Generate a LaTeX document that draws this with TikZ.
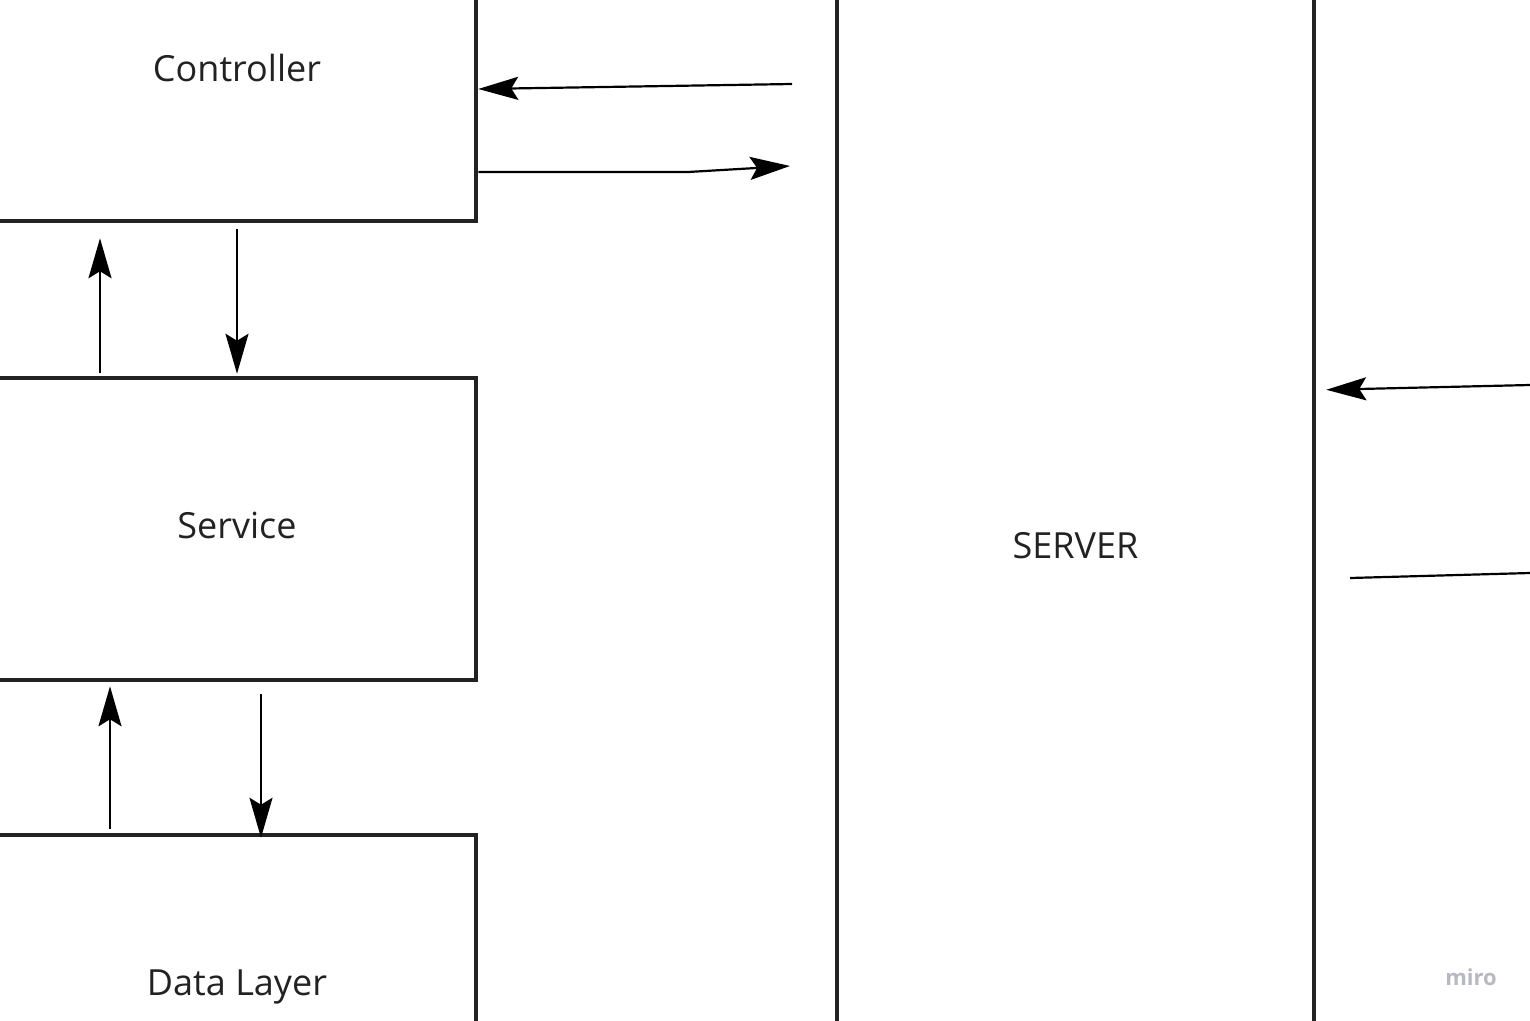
\documentclass[tikz,border=0pt]{standalone}
\usepackage{fontspec}
\setmainfont{Open Sans}
\usetikzlibrary{arrows.meta}
\definecolor{ink}{HTML}{222222}
\definecolor{mark}{HTML}{B8B8C2}
\begin{document}
\begin{tikzpicture}[x=1pt,y=-1pt,
  box/.style={draw=ink, line width=4.5pt, rectangle, inner sep=0pt,
    minimum width=478pt, minimum height=302pt},
  txt/.style={text=ink, inner sep=0pt, font=\fontsize{36}{42}\selectfont},
  arr/.style={line width=2.2pt, -{Stealth[length=40pt,width=23pt,inset=7pt]}},
  plainline/.style={line width=2.2pt}]
\useasboundingbox (0,0) rectangle (1530,1020);
\clip (0,0) rectangle (1530,1020);
\fill[white] (0,0) rectangle (1530,1020);

% layers of the application
\node[box, minimum height=306pt,
  label={[name=ctrltxt, txt]center:Controller}] (ctrl) at (237,68) {};
\node[box, label={[name=svctxt, txt, yshift=4pt]center:Service}] (svc) at (237,529) {};
\node[box, label={[name=datatxt, txt, yshift=-1pt]center:Data Layer}] (data) at (237,986) {};

% server column
\node[box, minimum width=477pt, minimum height=1400pt,
  label={[name=srvtxt, txt]center:SERVER}] (srv) at (1075.5,546) {};

% free ends of the request/response lines
\coordinate (reqin)   at (792,84);
\coordinate (bend)    at (688,172);
\coordinate (respout) at (790,166);
\coordinate (srvin)   at (1530,385);
\coordinate (outa)    at (1350,578);
\coordinate (outb)    at (1530,573);

% controller <-> outside
\draw[arr] (reqin) -- (ctrl.east |- 0,89);
\draw[arr] (ctrl.east |- 0,172) -- (bend) -- (respout);

% controller <-> service
\draw[arr, shorten <=3pt, shorten >=15pt] (svc.north -| 100,0) -- (ctrl.south -| 100,0);
\draw[arr, shorten <=6pt, shorten >=2pt] (ctrl.south) -- (svc.north);

% service <-> data layer
\draw[arr, shorten <=4pt, shorten >=4pt] (data.north -| 110,0) -- (svc.south -| 110,0);
\draw[arr, shorten <=12pt, shorten >=-5pt] (svc.south -| 261,0) -- (data.north -| 261,0);

% server side
\draw[arr, shorten >=10pt] (srvin) -- (srv.east |- 0,390);
\draw[plainline] (outa) -- (outb);

% watermark
\node[text=mark, font=\fontsize{22}{26}\selectfont\bfseries] (wm) at (1471,977) {miro};
\end{tikzpicture}
\end{document}
